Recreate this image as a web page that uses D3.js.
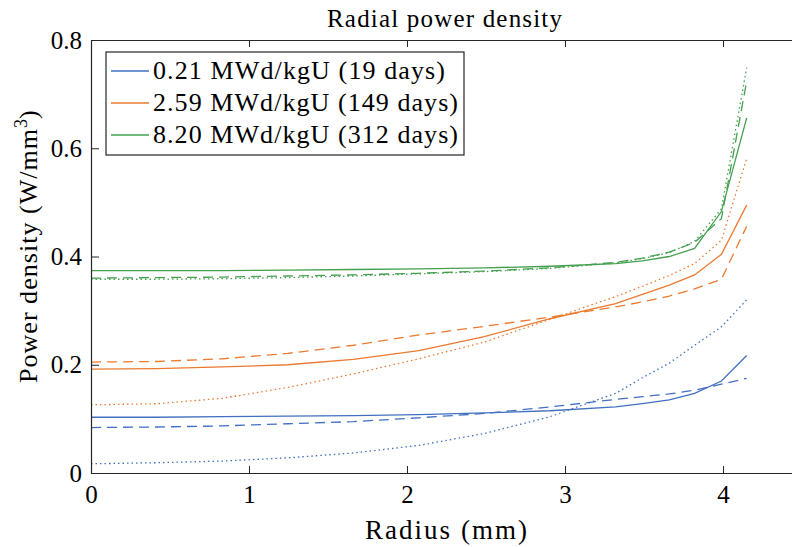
<!DOCTYPE html>
<html>
<head>
<meta charset="utf-8">
<script src="https://cdn.jsdelivr.net/npm/d3@7"></script>
<style>
  body { margin: 0; background: #fff; }
  text { font-family: "Liberation Serif", "DejaVu Serif", serif; fill: #000; }
</style>
</head>
<body>
<div class="chart"></div>
<script>
// radial nodes (mm)
var radius = [0, 0.415, 0.83, 1.245, 1.66, 2.075, 2.49, 2.905, 3.32, 3.49, 3.66, 3.82, 3.99, 4.15];

// 0.21 MWd/kgU (19 days)
var d19Solid  = [0.103, 0.103, 0.104, 0.105, 0.106, 0.108, 0.111, 0.115, 0.122, 0.128, 0.135, 0.147, 0.170, 0.217];
var d19Dashed = [0.084, 0.085, 0.087, 0.091, 0.095, 0.102, 0.110, 0.122, 0.136, 0.141, 0.146, 0.153, 0.164, 0.175];
var d19Dotted = [0.017, 0.019, 0.022, 0.028, 0.037, 0.051, 0.073, 0.104, 0.147, 0.176, 0.203, 0.236, 0.270, 0.320];

// 2.59 MWd/kgU (149 days)
var d149Solid  = [0.192, 0.193, 0.196, 0.200, 0.210, 0.226, 0.252, 0.285, 0.313, 0.330, 0.347, 0.366, 0.404, 0.495];
var d149Dashed = [0.205, 0.206, 0.211, 0.221, 0.236, 0.255, 0.271, 0.288, 0.307, 0.316, 0.327, 0.340, 0.358, 0.456];
var d149Dotted = [0.126, 0.128, 0.138, 0.158, 0.183, 0.211, 0.242, 0.284, 0.326, 0.345, 0.365, 0.387, 0.430, 0.581];

// 8.20 MWd/kgU (312 days)
var d312Solid  = [0.374, 0.374, 0.374, 0.375, 0.376, 0.377, 0.379, 0.382, 0.387, 0.392, 0.400, 0.415, 0.483, 0.656];
var d312Dashed = [0.360, 0.361, 0.362, 0.364, 0.366, 0.369, 0.373, 0.379, 0.389, 0.397, 0.408, 0.426, 0.470, 0.724];
var d312Dotted = [0.358, 0.358, 0.359, 0.361, 0.364, 0.368, 0.372, 0.378, 0.388, 0.396, 0.407, 0.428, 0.488, 0.749];

var legendLabels = ["0.21 MWd/kgU (19 days)", "2.59 MWd/kgU (149 days)", "8.20 MWd/kgU (312 days)"];
var xTicks = [0, 1, 2, 3, 4];
var yTicks = [0, 0.2, 0.4, 0.6, 0.8];

(function() {
var colors = ["#4170c0", "#ea7a30", "#44a04f"];
var groups = [
    [d19Solid, d19Dashed, d19Dotted],
    [d149Solid, d149Dashed, d149Dotted],
    [d312Solid, d312Dashed, d312Dotted]
];
var dashes = [null, "10,6", "1.5,3"];

var width = 792, height = 547;
var mLeft = 91, mRight = 802, mTop = 40, mBottom = 473;

var svg = d3.select(".chart").append("svg")
    .attr("width", width)
    .attr("height", height);

svg.append("rect").attr("width", width).attr("height", height).attr("fill", "#fff");

var x = d3.scaleLinear().domain([0, 4.5]).range([mLeft, mRight]);
var y = d3.scaleLinear().domain([0, 0.8]).range([mBottom, mTop]);

var line = d3.line()
    .x(function(d) { return x(d[0]); })
    .y(function(d) { return y(d[1]); });

groups.forEach(function(g, gi) {
    g.forEach(function(vals, si) {
        svg.append("path")
            .attr("d", line(radius.map(function(r, i) { return [r, vals[i]]; })))
            .attr("fill", "none")
            .attr("stroke", colors[gi])
            .attr("stroke-width", 1.3)
            .attr("stroke-dasharray", dashes[si]);
    });
});

// axes
var axisColor = "#262626";
var xAxis = svg.append("g")
    .attr("transform", "translate(0," + mBottom + ")")
    .call(d3.axisBottom(x).tickValues(xTicks).tickSize(-7).tickSizeOuter(0).tickPadding(12).tickFormat(d3.format("d")));
var xTop = svg.append("g")
    .attr("transform", "translate(0," + mTop + ")")
    .call(d3.axisTop(x).tickValues(xTicks).tickSize(-7).tickSizeOuter(0).tickFormat(""));
var yAxis = svg.append("g")
    .attr("transform", "translate(" + mLeft + ",0)")
    .call(d3.axisLeft(y).tickValues(yTicks).tickSize(-8).tickSizeOuter(0).tickPadding(9)
        .tickFormat(function(d) { return d === 0 ? "0" : d3.format(".1f")(d); }));

[xAxis, xTop, yAxis].forEach(function(a) {
    a.select(".domain").attr("stroke", axisColor).attr("stroke-width", 1.2);
    a.selectAll(".tick line").attr("stroke", axisColor).attr("stroke-width", 1);
    a.selectAll(".tick text")
        .attr("fill", "#000")
        .style("font-family", "'Liberation Serif', serif")
        .style("font-size", "25px");
});

// title and labels
svg.append("text")
    .attr("x", 327).attr("y", 27)
    .attr("textLength", 235)
    .style("font-size", "25px")
    .text("Radial power density");

svg.append("text")
    .attr("x", 365).attr("y", 539)
    .attr("textLength", 162)
    .style("font-size", "27px")
    .text("Radius (mm)");

var yl = svg.append("text")
    .attr("transform", "translate(37,383) rotate(-90)")
    .style("font-size", "26px");
yl.append("tspan").attr("textLength", 254).text("Power density (W/mm");
yl.append("tspan").attr("dy", -10).style("font-size", "18px").text("3");
yl.append("tspan").attr("dy", 10).text(")");

// legend
var legend = svg.append("g");
legend.append("rect")
    .attr("x", 106).attr("y", 52)
    .attr("width", 358).attr("height", 103)
    .attr("fill", "#fff")
    .attr("stroke", axisColor)
    .attr("stroke-width", 1.2);

var legendWidths = [292, 305, 305];
legendLabels.forEach(function(lbl, i) {
    var cy = 71 + i * 32;
    legend.append("line")
        .attr("x1", 111).attr("x2", 149)
        .attr("y1", cy).attr("y2", cy)
        .attr("stroke", colors[i])
        .attr("stroke-width", 1.3);
    legend.append("text")
        .attr("x", 153).attr("y", cy + 8)
        .attr("textLength", legendWidths[i])
        .style("font-size", "26px")
        .text(lbl);
});
})();
</script>
</body>
</html>
